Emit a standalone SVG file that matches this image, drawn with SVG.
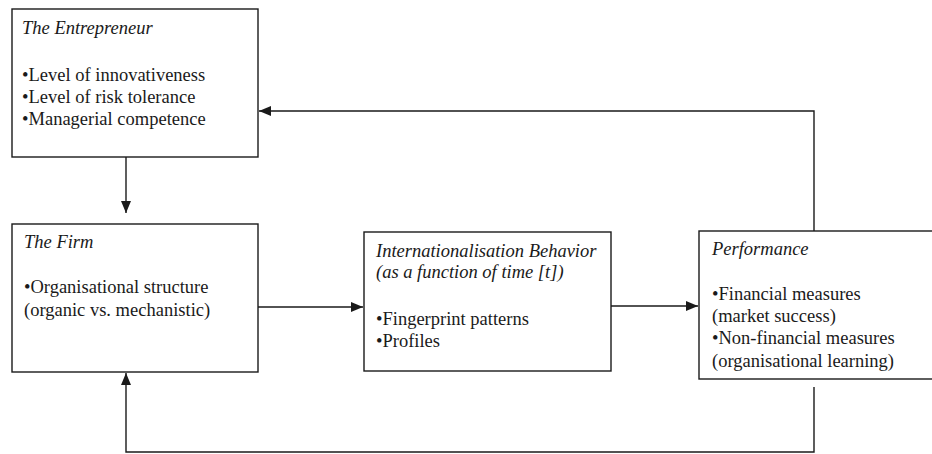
<svg xmlns="http://www.w3.org/2000/svg" width="932" height="454" viewBox="0 0 932 454">
  <style>
    .box { fill: #ffffff; stroke: #1a1a1a; stroke-width: 1.4; }
    .t { font-family: "Liberation Serif", "Times New Roman", serif; font-size: 18.5px; fill: #1a1a1a; }
    .h { font-style: italic; }
    .wire { fill: none; stroke: #1a1a1a; stroke-width: 1.4; }
  </style>
  <defs>
    <!-- solid triangular arrowhead shared by every connector -->
    <marker id="arrow" viewBox="0 0 12 10" refX="12" refY="5" markerWidth="12" markerHeight="10" markerUnits="userSpaceOnUse" orient="auto">
      <path d="M0,0 L12,5 L0,10 Z" fill="#1a1a1a"/>
    </marker>
  </defs>
  <rect width="932" height="454" fill="#ffffff"/>

  <g id="connectors">
    <path class="wire" d="M126,157 V213" marker-end="url(#arrow)"/>
    <path class="wire" d="M258,307 H363" marker-end="url(#arrow)"/>
    <path class="wire" d="M611,306 H698" marker-end="url(#arrow)"/>
    <path class="wire" d="M814,231 V111 H259" marker-end="url(#arrow)"/>
    <path class="wire" d="M814,387 V452 H126 V373" marker-end="url(#arrow)"/>
  </g>

  <g id="entrepreneur">
    <rect class="box" x="12" y="9" width="246" height="148"/>
    <text class="t h" x="22" y="34">The Entrepreneur</text>
    <text class="t" x="22" y="81">•Level of innovativeness</text>
    <text class="t" x="22" y="103">•Level of risk tolerance</text>
    <text class="t" x="22" y="125">•Managerial competence</text>
  </g>

  <g id="firm">
    <rect class="box" x="12" y="224" width="246" height="148"/>
    <text class="t h" x="24" y="248">The Firm</text>
    <text class="t" x="24" y="293">•Organisational structure</text>
    <text class="t" x="24" y="316">(organic vs. mechanistic)</text>
  </g>

  <g id="behaviour">
    <rect class="box" x="364" y="232" width="247" height="139"/>
    <text class="t h" x="376" y="257">Internationalisation Behavior</text>
    <text class="t h" x="376" y="278">(as a function of time [t])</text>
    <text class="t" x="376" y="325">•Fingerprint patterns</text>
    <text class="t" x="376" y="347">•Profiles</text>
  </g>

  <g id="performance">
    <rect class="box" x="699" y="231" width="245" height="148"/>
    <text class="t h" x="712" y="255">Performance</text>
    <text class="t" x="712" y="300">•Financial measures</text>
    <text class="t" x="712" y="322">(market success)</text>
    <text class="t" x="712" y="344">•Non-financial measures</text>
    <text class="t" x="712" y="367">(organisational learning)</text>
  </g>
</svg>
